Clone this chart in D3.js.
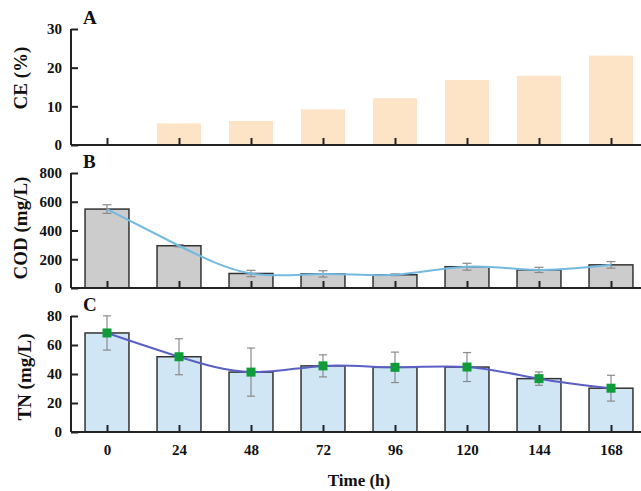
<!DOCTYPE html>
<html>
<head>
<meta charset="utf-8">
<script src="https://cdn.jsdelivr.net/npm/d3@7.9.0/dist/d3.min.js"></script>
<style>
  body { margin: 0; background: #fff; }
  svg { display: block; font-family: "Liberation Serif", "Times New Roman", serif; font-weight: bold; }
</style>
</head>
<body>
<svg id="chart"></svg>
<script>
// Data
const times = ['0', '24', '48', '72', '96', '120', '144', '168'];
const ceValues = [0, 5.6, 6.2, 9.2, 12.1, 16.8, 17.9, 23.1];
const codValues = [549, 294, 101, 98, 92, 148, 126, 161];
const codErrors = [30, 8, 22, 22, 6, 24, 18, 23];
const tnValues = [68.3, 51.9, 41.3, 45.6, 44.6, 44.8, 36.8, 30.2];
const tnErrors = [11.8, 12.4, 16.6, 7.6, 10.5, 10, 4.6, 8.9];
const ceTicks = [0, 10, 20, 30];
const codTicks = [0, 200, 400, 600, 800];
const tnTicks = [0, 20, 40, 60, 80];

const width = 641;
const height = 491;
const marginLeft = 71;
const axisRight = 647;

const svg = d3.select('#chart')
  .attr('width', width)
  .attr('height', height)
  .attr('viewBox', [0, 0, width, height]);

// Shared x scale (one point per sampling time)
const x = d3.scalePoint()
  .domain(times)
  .range([marginLeft, axisRight])
  .padding(0.5);
const barWidth = x.step() * 0.61;

// Panel layout: top/bottom pixel rows of the y axis
const panels = [
  { key: 'A', title: 'CE (%)', top: 29, bottom: 145, max: 30, ticks: ceTicks, values: ceValues, titleX: 27, titleY: 78 },
  { key: 'B', title: 'COD (mg/L)', top: 173, bottom: 288, max: 800, ticks: codTicks, values: codValues, errors: codErrors, titleX: 27, titleY: 228 },
  { key: 'C', title: 'TN (mg/L)', top: 316, bottom: 432, max: 80, ticks: tnTicks, values: tnValues, errors: tnErrors, titleX: 31, titleY: 377 },
];

const styles = {
  A: { fill: '#fde4c7', stroke: 'none' },
  B: { fill: '#cccccc', stroke: '#333' },
  C: { fill: '#d0e6f4', stroke: '#333' },
};

panels.forEach((p) => {
  const y = d3.scaleLinear().domain([0, p.max]).range([p.bottom, p.top]);
  const g = svg.append('g');
  const data = times.map((t, i) => ({ t, v: p.values[i], e: p.errors ? p.errors[i] : 0 }));

  // Bars
  g.selectAll('rect')
    .data(data.filter((d) => d.v > 0))
    .join('rect')
    .attr('x', (d) => x(d.t) - barWidth / 2)
    .attr('width', barWidth)
    .attr('y', (d) => y(d.v))
    .attr('height', (d) => y(0) - y(d.v))
    .attr('fill', styles[p.key].fill)
    .attr('stroke', styles[p.key].stroke)
    .attr('stroke-width', 1.5);

  // x axis (ticks point inward)
  g.append('g')
    .attr('transform', `translate(0,${p.bottom})`)
    .call(d3.axisBottom(x).tickSize(-7).tickSizeOuter(0).tickFormat(p.key === 'C' ? null : ''))
    .call((a) => a.select('.domain').attr('stroke', '#222').attr('stroke-width', 2).attr('d', `M${marginLeft},0H${width}`))
    .call((a) => a.selectAll('.tick line').attr('stroke', '#222').attr('stroke-width', 2))
    .call((a) => a.selectAll('.tick text')
      .attr('y', 12)
      .attr('font-size', 15)
      .attr('font-family', 'Liberation Serif, serif')
      .attr('font-weight', 'bold')
      .attr('fill', '#111'));

  // y axis (ticks point inward)
  g.append('g')
    .attr('transform', `translate(${marginLeft},0)`)
    .call(d3.axisLeft(y).tickValues(p.ticks).tickSize(-7).tickSizeOuter(0).tickPadding(9))
    .call((a) => a.select('.domain').attr('stroke', '#222').attr('stroke-width', 2).attr('d', `M0,${p.top}V${p.bottom}`))
    .call((a) => a.selectAll('.tick line').attr('stroke', '#222').attr('stroke-width', 2))
    .call((a) => a.selectAll('.tick text')
      .attr('font-size', 15)
      .attr('font-family', 'Liberation Serif, serif')
      .attr('font-weight', 'bold')
      .attr('fill', '#111'));

  // Error bars
  if (p.errors) {
    const cap = p.key === 'B' ? 4.5 : 4;
    const eb = g.append('g').attr('stroke', '#8a8a8a').attr('stroke-width', 1.2);
    data.forEach((d) => {
      const cx = x(d.t);
      eb.append('line').attr('x1', cx).attr('x2', cx).attr('y1', y(d.v + d.e)).attr('y2', y(d.v - d.e));
      eb.append('line').attr('x1', cx - cap).attr('x2', cx + cap).attr('y1', y(d.v + d.e)).attr('y2', y(d.v + d.e));
      eb.append('line').attr('x1', cx - cap).attr('x2', cx + cap).attr('y1', y(d.v - d.e)).attr('y2', y(d.v - d.e));
    });
  }

  // Smoothed trend lines
  if (p.key !== 'A') {
    const line = d3.line()
      .x((d) => x(d.t))
      .y((d) => y(d.v))
      .curve(d3.curveNatural);
    g.append('path')
      .datum(data)
      .attr('fill', 'none')
      .attr('stroke', p.key === 'B' ? '#74b9e0' : '#5a5fc4')
      .attr('stroke-width', 2)
      .attr('d', line);
  }

  if (p.key === 'C') {
    g.selectAll('.marker')
      .data(data)
      .join('rect')
      .attr('class', 'marker')
      .attr('x', (d) => x(d.t) - 4.5)
      .attr('y', (d) => y(d.v) - 4.5)
      .attr('width', 9)
      .attr('height', 9)
      .attr('fill', '#0f9b3a');
  }

  // Panel letter
  svg.append('text')
    .attr('x', 83)
    .attr('y', p.top - 5)
    .attr('font-size', 19)
    .attr('fill', '#111')
    .text(p.key);

  // y axis title
  svg.append('text')
    .attr('transform', `translate(${p.titleX},${p.titleY}) rotate(-90)`)
    .attr('text-anchor', 'middle')
    .attr('font-size', 19)
    .attr('fill', '#111')
    .text(p.title);
});

// x axis title
svg.append('text')
  .attr('x', (marginLeft + axisRight) / 2)
  .attr('y', 486)
  .attr('text-anchor', 'middle')
  .attr('font-size', 17)
  .attr('fill', '#111')
  .text('Time (h)');
</script>
</body>
</html>
